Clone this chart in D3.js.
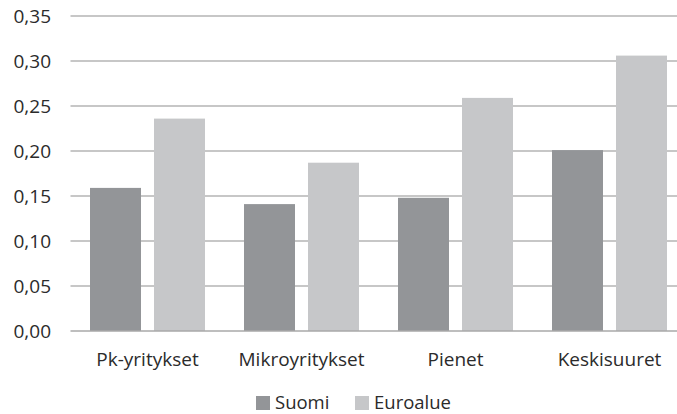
<!DOCTYPE html>
<html>
<head>
<meta charset="utf-8">
<script src="https://cdn.jsdelivr.net/npm/d3@7"></script>
<style>
  body { margin: 0; background: #fff; }
  svg text { font-family: "Open Sans", sans-serif; fill: #2b2b2b; }
</style>
</head>
<body>
<svg id="chart" width="677" height="414"></svg>
<script>
'use strict';

var categories = ['Pk-yritykset', 'Mikroyritykset', 'Pienet', 'Keskisuuret'];
var seriesNames = ['Suomi', 'Euroalue'];
var suomi = [0.159, 0.141, 0.148, 0.201];
var euroalue = [0.236, 0.187, 0.259, 0.306];
var yTicks = [0, 0.05, 0.10, 0.15, 0.20, 0.25, 0.30, 0.35];

var colors = { Suomi: '#939598', Euroalue: '#c6c7c9' };

renderChart();

function renderChart() {
  var svg = d3.select('#chart');
  var fontSize = 19;
  var left = 70.5, right = 677;

  var y = d3.scaleLinear()
      .domain([0, 0.35])
      .range([331, 16]);

  var x0 = d3.scaleBand()
      .domain(categories)
      .range([70.5, 686.5])
      .paddingInner(0.2532)
      .paddingOuter(0.1266);

  var x1 = d3.scaleBand()
      .domain(seriesNames)
      .range([0, x0.bandwidth()])
      .paddingInner(0.203);

  var fmt = function (d) { return d3.format('.2f')(d).replace('.', ','); };

  // gridlines
  svg.append('g').selectAll('line')
      .data(yTicks.filter(function (d) { return d > 0; }))
    .enter().append('line')
      .attr('x1', left).attr('x2', right)
      .attr('y1', function (d) { return y(d); })
      .attr('y2', function (d) { return y(d); })
      .attr('stroke', '#b4b4b4')
      .attr('stroke-width', 1.5);

  // y labels
  svg.append('g').selectAll('text')
      .data(yTicks)
    .enter().append('text')
      .attr('x', 51)
      .attr('y', function (d) { return y(d); })
      .attr('dy', '0.36em')
      .attr('text-anchor', 'end')
      .style('font-size', fontSize + 'px')
      .text(fmt);

  // bars
  var rows = categories.map(function (c, i) {
    return { cat: c, values: [
      { name: 'Suomi', value: suomi[i] },
      { name: 'Euroalue', value: euroalue[i] }
    ] };
  });

  var group = svg.append('g').selectAll('g')
      .data(rows)
    .enter().append('g')
      .attr('transform', function (d) { return 'translate(' + x0(d.cat) + ',0)'; });

  group.selectAll('rect')
      .data(function (d) { return d.values; })
    .enter().append('rect')
      .attr('x', function (d) { return x1(d.name); })
      .attr('y', function (d) { return y(d.value); })
      .attr('width', x1.bandwidth())
      .attr('height', function (d) { return y(0) - y(d.value); })
      .attr('fill', function (d) { return colors[d.name]; });

  // baseline
  svg.append('line')
      .attr('x1', left).attr('x2', right)
      .attr('y1', y(0)).attr('y2', y(0))
      .attr('stroke', '#a8a8a8')
      .attr('stroke-width', 1.5);

  // category labels
  svg.append('g').selectAll('text')
      .data(categories)
    .enter().append('text')
      .attr('x', function (d) { return x0(d) + x0.bandwidth() / 2; })
      .attr('y', 366)
      .attr('text-anchor', 'middle')
      .style('font-size', fontSize + 'px')
      .text(function (d) { return d; });

  // legend
  var legendX = [256, 355];
  var legend = svg.append('g').selectAll('g')
      .data(seriesNames)
    .enter().append('g')
      .attr('transform', function (d, i) { return 'translate(' + legendX[i] + ',0)'; });

  legend.append('rect')
      .attr('x', 0).attr('y', 396)
      .attr('width', 14).attr('height', 14)
      .attr('fill', function (d) { return colors[d]; });

  legend.append('text')
      .attr('x', 19)
      .attr('y', 408.5)
      .style('font-size', '18.5px')
      .text(function (d) { return d; });
}
</script>
</body>
</html>
